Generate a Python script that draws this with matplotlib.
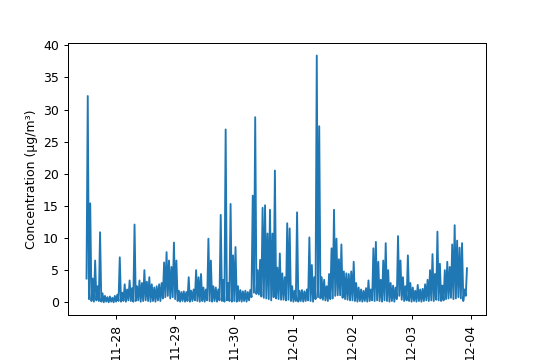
import numpy as np
import pandas as pd
import matplotlib
matplotlib.use("Agg")
import matplotlib.pyplot as plt
import matplotlib.dates as mdates

# hourly high / low readings, starting 2023-11-27 12:00
inicio = "2023-11-27 12:00"

altos = [32.1, 15.4, 3.7, 6.5, 2.5, 10.9, 1.4, 1.0, 0.8, 0.9,
         0.7, 1.0, 1.2, 7.0, 1.5, 2.8, 2.0, 3.4, 2.2, 12.1,
         2.5, 3.4, 3.0, 5.0, 3.2, 3.9, 2.8, 2.3, 2.5, 2.8,
         3.0, 6.2, 7.8, 6.5, 5.5, 9.3, 6.5, 1.8, 1.6, 1.7,
         1.6, 3.9, 1.8, 2.0, 5.0, 3.9, 4.4, 2.3, 2.0, 9.9,
         6.5, 2.5, 2.3, 2.0, 13.6, 3.5, 26.9, 3.0, 15.3, 7.3,
         8.6, 2.5, 1.9, 1.7, 1.8, 1.6, 1.9, 16.6, 28.8, 5.0,
         6.6, 14.7, 15.1, 10.7, 14.4, 10.7, 20.5, 5.4, 7.6, 4.5,
         3.9, 12.3, 11.5, 2.5, 1.8, 14.0, 1.8, 1.9, 1.7, 2.0,
         10.1, 5.8, 3.9, 38.4, 27.4, 3.9, 3.5, 2.5, 4.4, 8.4,
         14.4, 9.9, 6.7, 9.0, 4.8, 4.5, 4.4, 4.8, 6.3, 3.0,
         2.3, 2.0, 1.8, 2.2, 3.4, 2.0, 8.4, 9.4, 6.3, 3.5,
         6.5, 9.2, 5.0, 3.0, 2.6, 2.3, 10.3, 6.5, 3.9, 2.5,
         7.3, 3.0, 2.3, 1.8, 2.7, 2.0, 2.1, 2.8, 3.5, 5.0,
         7.5, 4.4, 11.0, 6.0, 2.6, 5.0, 6.3, 5.5, 9.0, 12.0,
         9.6, 8.5, 9.2, 2.0, 5.3]

bajos = [3.7, 0.5, 0.2, 0.1, 0.3, 0.2, 0.1, 0.0, 0.1, 0.0,
         0.1, 0.0, 0.1, 0.2, 0.1, 0.2, 0.1, 0.3, 0.2, 0.1,
         0.2, 0.3, 0.1, 0.2, 0.3, 0.2, 0.1, 0.2, 0.1, 0.3,
         0.2, 0.6, 0.8, 1.0, 0.6, 0.8, 0.5, 0.2, 0.1, 0.2,
         0.1, 0.2, 0.1, 0.2, 0.3, 0.2, 0.1, 0.2, 0.1, 0.3,
         0.2, 0.1, 0.2, 0.1, 0.3, 0.2, 0.1, 0.3, 0.2, 0.1,
         0.2, 0.1, 0.2, 0.1, 0.2, 0.1, 0.3, 0.8, 1.5, 1.3,
         1.2, 0.9, 0.7, 0.6, 0.5, 0.3, 0.8, 0.6, 0.5, 0.4,
         0.4, 0.3, 0.4, 0.2, 0.1, 0.2, 0.1, 0.2, 0.1, 0.2,
         0.3, 0.2, 0.1, 0.5, 0.8, 0.6, 0.4, 0.3, 0.2, 0.5,
         0.6, 1.0, 1.1, 1.1, 0.7, 0.5, 0.4, 0.3, 0.3, 0.2,
         0.1, 0.2, 0.1, 0.2, 0.1, 0.2, 0.3, 0.2, 0.3, 0.2,
         0.1, 0.3, 0.2, 0.1, 0.2, 0.1, 0.5, 1.0, 0.4, 0.2,
         0.3, 0.2, 0.1, 0.2, 0.1, 0.2, 0.1, 0.2, 0.3, 0.2,
         0.3, 0.2, 0.4, 0.3, 0.2, 0.3, 0.5, 0.6, 0.7, 0.5,
         0.6, 0.8, 0.6, 0.2, 1.0]

# intercalar bajo / alto cada media hora
valores = np.column_stack([bajos, altos]).ravel()
tiempos = pd.date_range(inicio, periods=len(valores), freq="30min")

fig, ax = plt.subplots(figsize=(6, 4), dpi=90)
fig.subplots_adjust(left=0.125, right=0.9, top=0.88, bottom=0.126)

ax.plot(tiempos, valores, color="#1f77b4", linewidth=1.5)
ax.set_ylabel("Concentration (μg/m³)")
ax.xaxis.set_major_locator(mdates.DayLocator())
ax.xaxis.set_major_formatter(mdates.DateFormatter("%m-%d"))
plt.setp(ax.get_xticklabels(), rotation=90)

fig.savefig("out.png", dpi=90)
